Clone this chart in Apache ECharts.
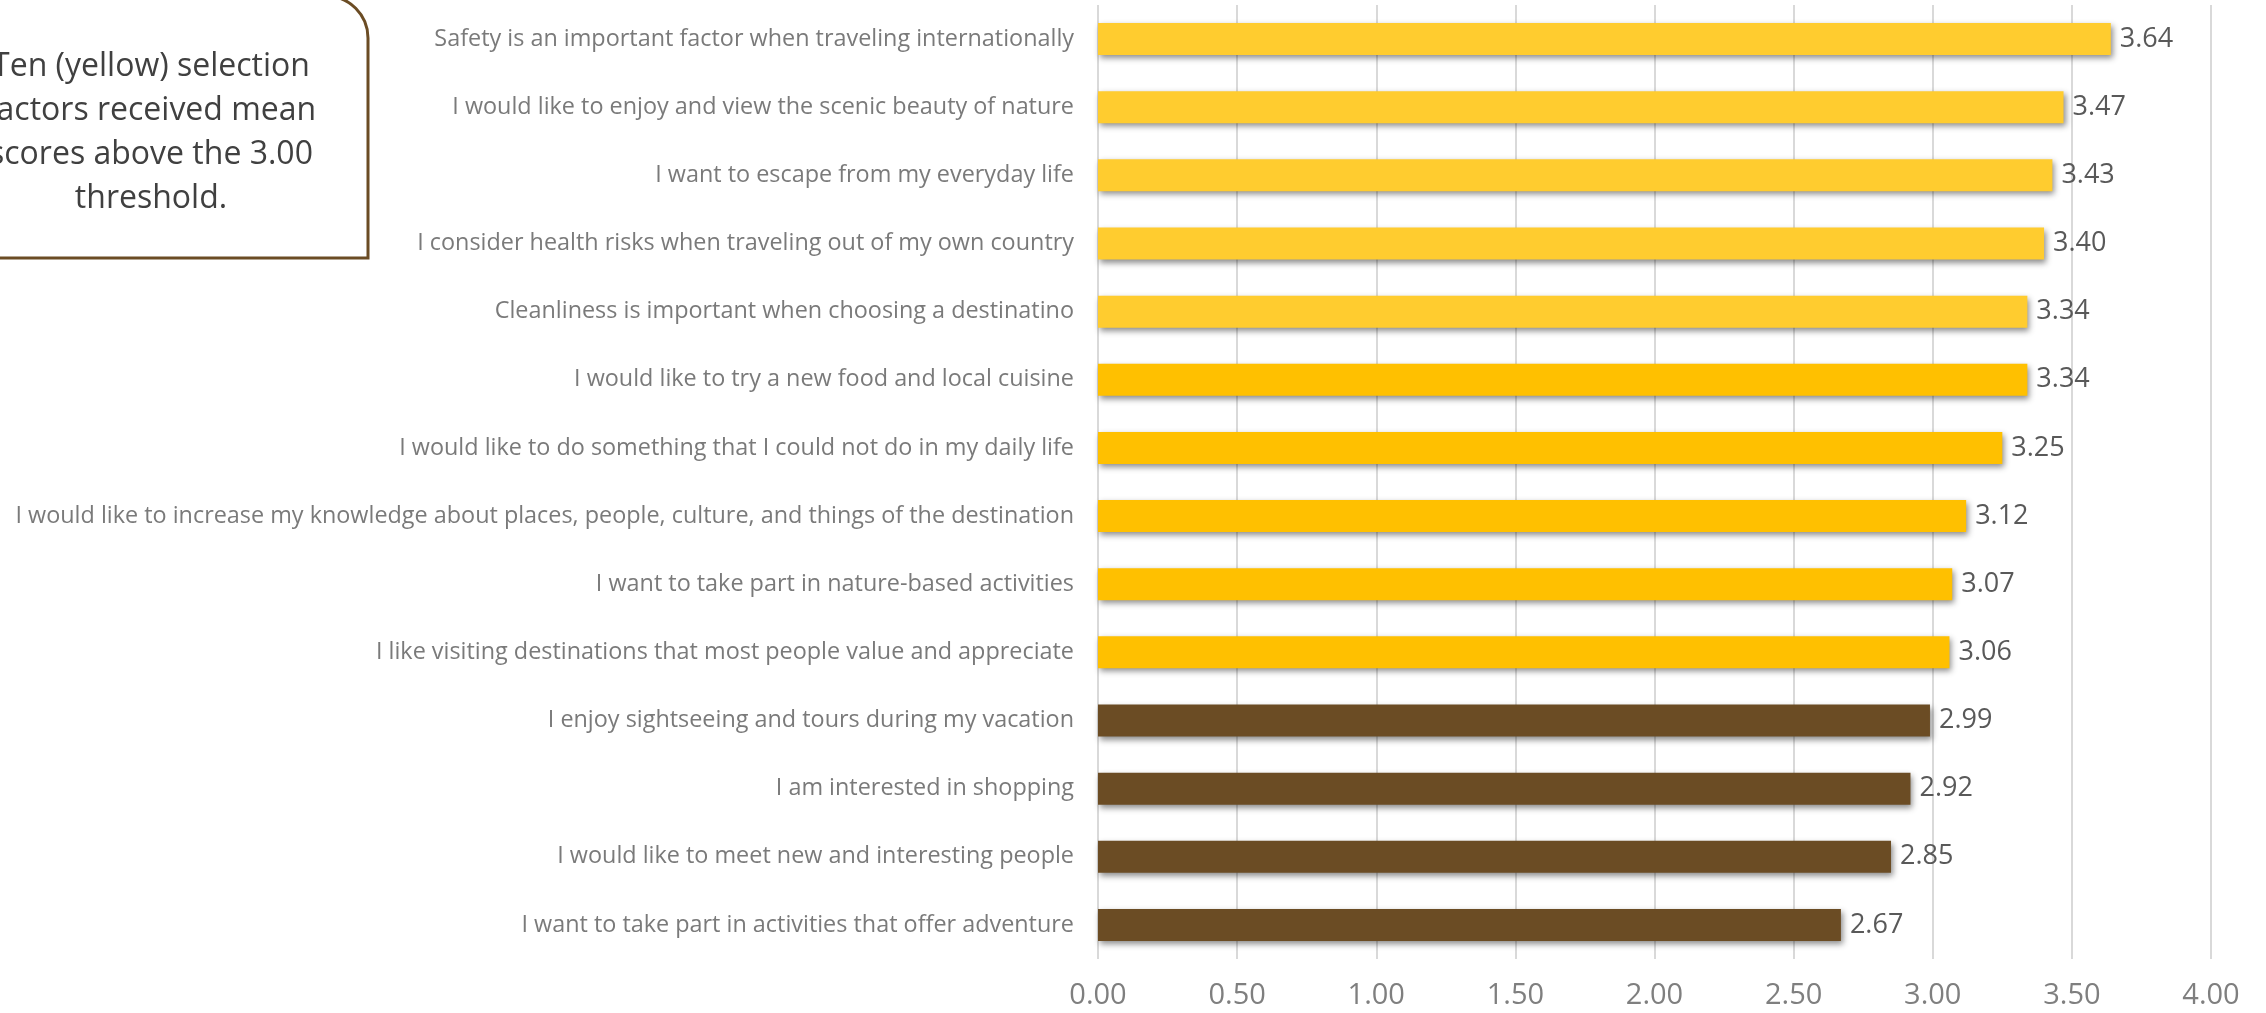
<!DOCTYPE html>
<html>
<head>
<meta charset="utf-8">
<script src="https://cdn.jsdelivr.net/npm/echarts@6/dist/echarts.min.js"></script>
<style>
  html, body { margin: 0; padding: 0; background: #ffffff; }
  #chart { width: 2266px; height: 1013px; }
</style>
</head>
<body>
<div id="chart"></div>
<script>
// Travel selection factors, listed from highest to lowest mean score
const factors = [
  'Safety is an important factor when traveling internationally',
  'I would like to enjoy and view the scenic beauty of nature',
  'I want to escape from my everyday life',
  'I consider health risks when traveling out of my own country',
  'Cleanliness is important when choosing a destinatino',
  'I would like to try a new food and local cuisine',
  'I would like to do something that I could not do in my daily life',
  'I would like to increase my knowledge about places, people, culture, and things of the destination',
  'I want to take part in nature-based activities',
  'I like visiting destinations that most people value and appreciate',
  'I enjoy sightseeing and tours during my vacation',
  'I am interested in shopping',
  'I would like to meet new and interesting people',
  'I want to take part in activities that offer adventure'
];
const meanScores = [3.64, 3.47, 3.43, 3.40, 3.34, 3.34, 3.25, 3.12, 3.07, 3.06, 2.99, 2.92, 2.85, 2.67];
// Colour group per factor: 'light' / 'gold' are above the threshold, 'brown' below
const colorGroup = ['light', 'light', 'light', 'light', 'light', 'gold', 'gold', 'gold', 'gold', 'gold', 'brown', 'brown', 'brown', 'brown'];
const xTicks = { min: 0, max: 4, interval: 0.5 };
const calloutLines = ['Ten (yellow) selection', 'factors received mean', 'scores above the 3.00', 'threshold.'];

const palette = { light: '#FFCC2F', gold: '#FFC000', brown: '#6B4C24' };

const chart = echarts.init(document.getElementById('chart'), null, { renderer: 'canvas' });

chart.setOption({
  animation: false,
  backgroundColor: '#ffffff',
  grid: { left: 1098, right: 55, top: 5, bottom: 54, containLabel: false },
  xAxis: {
    type: 'value',
    min: xTicks.min,
    max: xTicks.max,
    interval: xTicks.interval,
    axisLine: { show: false },
    axisTick: { show: false },
    splitLine: { show: true, lineStyle: { color: '#D9D9D9', width: 2 } },
    axisLabel: {
      margin: 22,
      color: '#7F7F7F',
      fontFamily: 'Open Sans',
      fontSize: 29,
      formatter: v => v.toFixed(2)
    }
  },
  yAxis: {
    type: 'category',
    inverse: true,
    data: factors,
    axisLine: { show: false },
    axisTick: { show: false },
    axisLabel: {
      margin: 24,
      color: '#7A7A7A',
      fontFamily: 'Open Sans',
      fontSize: 23.4
    }
  },
  series: [{
    type: 'bar',
    barWidth: 32,
    data: meanScores.map((v, i) => ({
      value: v,
      itemStyle: { color: palette[colorGroup[i]] }
    })),
    itemStyle: {
      shadowColor: 'rgba(0,0,0,0.45)',
      shadowBlur: 6,
      shadowOffsetX: 2,
      shadowOffsetY: 3
    },
    label: {
      show: true,
      position: 'right',
      distance: 9,
      color: '#595959',
      fontFamily: 'Open Sans',
      fontSize: 27,
      formatter: p => p.value.toFixed(2)
    }
  }],
  graphic: [
    {
      type: 'rect',
      shape: { x: -70, y: -4, width: 438, height: 262, r: [0, 42, 0, 0] },
      style: { fill: '#ffffff', stroke: '#6B4C24', lineWidth: 3 },
      z: 10
    },
    {
      type: 'text',
      x: 151,
      y: 45,
      style: {
        text: calloutLines.join('\n'),
        fill: '#404040',
        font: '32px "Open Sans"',
        textAlign: 'center',
        textVerticalAlign: 'top',
        lineHeight: 44
      },
      z: 11
    }
  ]
});
</script>
</body>
</html>
